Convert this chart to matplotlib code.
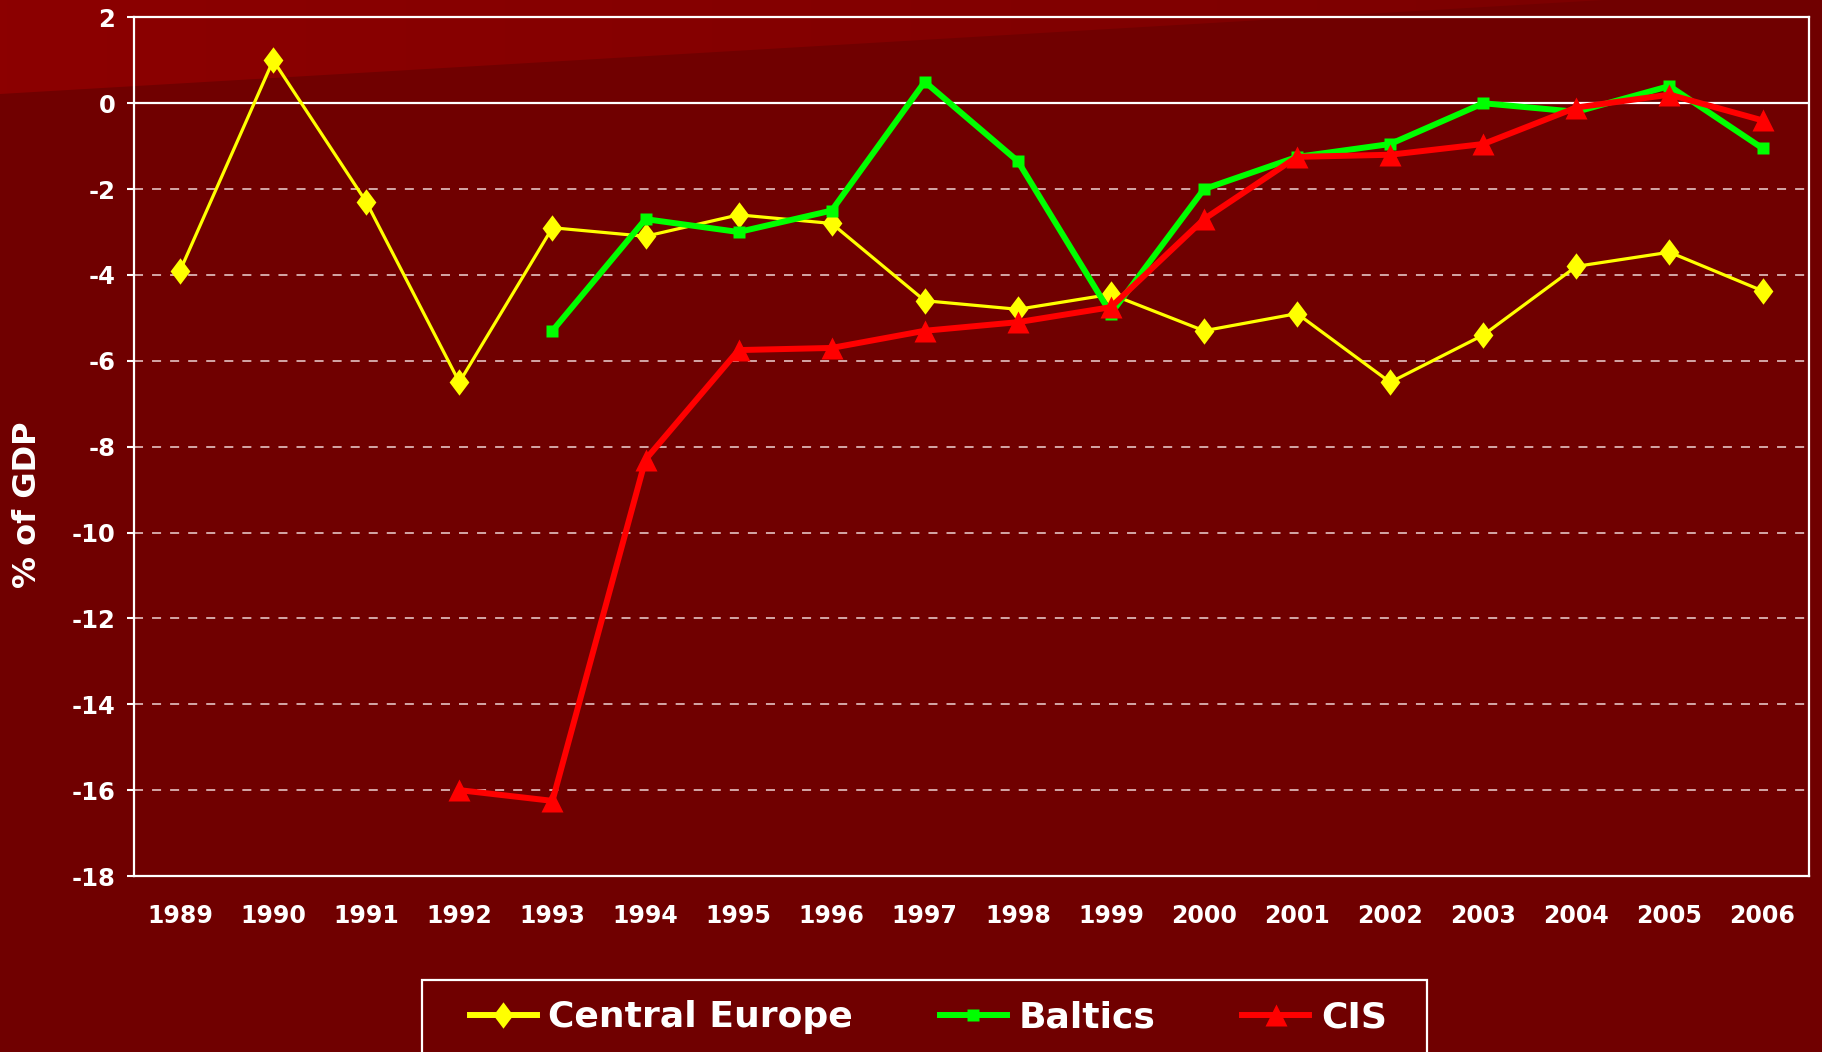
import matplotlib.pyplot as plt
import numpy as np
from matplotlib.patches import Polygon, Rectangle
from matplotlib.colors import LinearSegmentedColormap

# data (% of GDP)
years = list(range(1989, 2007))
central_europe = [-3.9, 1.0, -2.3, -6.5, -2.9, -3.1, -2.6, -2.8, -4.6, -4.8,
                  -4.45, -5.3, -4.9, -6.5, -5.4, -3.8, -3.47, -4.37]
baltic_years = list(range(1993, 2007))
baltics = [-5.3, -2.7, -3.0, -2.5, 0.5, -1.35, -4.9, -2.0, -1.25, -0.95,
           0.0, -0.2, 0.4, -1.05]
cis_years = list(range(1992, 2007))
cis = [-16.0, -16.25, -8.3, -5.75, -5.7, -5.3, -5.1, -4.75, -2.7, -1.25,
       -1.2, -0.95, -0.1, 0.2, -0.4]
y_ticks = list(range(-18, 3, 2))

BG = '#700000'
plt.rcParams['font.family'] = ['DejaVu Sans']
plt.rcParams['font.weight'] = 'bold'

fig = plt.figure(figsize=(18.22, 10.52), dpi=100)
fig.patch.set_facecolor(BG)

# lighter band in the top left corner
bg = fig.add_axes([0, 0, 1, 1], zorder=-10)
bg.set_xlim(0, 1)
bg.set_ylim(0, 1)
bg.axis('off')
cmap = LinearSegmentedColormap.from_list('band', ['#8c0000', '#7a0000'])
im = bg.imshow(np.linspace(0, 1, 256)[None, :], cmap=cmap, aspect='auto',
               extent=[0, 1, 0, 1])
band = Polygon([(0, 1), (0, 1 - 94 / 1052), (1604 / 1822, 1)], closed=True,
               transform=bg.transAxes, facecolor='none', edgecolor='none')
bg.add_patch(band)
im.set_clip_path(band)

# legend frame, runs off the bottom edge
bg.add_patch(Rectangle((422 / 1822, -0.01), 1005 / 1822, 0.01 + 72 / 1052,
                       transform=bg.transAxes, facecolor='none',
                       edgecolor='white', lw=1.6))

ax = fig.add_axes([0.0733, 0.1673, 0.9196, 0.8162])
ax.set_facecolor('none')

diamond = [(0, 1), (0.75, 0), (0, -1), (-0.75, 0), (0, 1)]
ax.plot(years, central_europe, color='#ffff00', lw=2.3, marker=diamond,
        ms=19, mec='none', label='Central Europe', zorder=3)
ax.plot(baltic_years, baltics, color='#00ff00', lw=4.3, marker='s',
        ms=9, mec='none', label='Baltics', zorder=4)
ax.plot(cis_years, cis, color='#ff0000', lw=4.3, marker='^',
        ms=16, mec='none', label='CIS', zorder=5)

ax.set_xlim(1988.5, 2006.5)
ax.set_ylim(-18, 2)
ax.set_xticks(years)
ax.set_yticks(y_ticks)
ax.set_yticklabels([str(t) for t in y_ticks])

for y in y_ticks[1:-2]:
    ax.axhline(y, color='#dcb4b4', lw=1.3, ls=(0, (5, 5)), zorder=1)
ax.axhline(0, color='white', lw=1.6, zorder=1)

for s in ax.spines.values():
    s.set_color('white')
    s.set_linewidth(1.6)

ax.tick_params(axis='x', length=0, pad=20, labelsize=17, colors='white')
ax.tick_params(axis='y', length=5, width=1.5, pad=8, labelsize=17.5,
               colors='white', direction='out')

fig.text(28 / 1822, 1 - 505 / 1052, '% of GDP', rotation=90, ha='center',
         va='center', color='white', fontsize=23, fontweight='bold')

leg = fig.legend(loc='center', bbox_to_anchor=(0.5095, 0.033), ncol=3,
                 prop={'size': 26, 'weight': 'bold'}, frameon=False,
                 columnspacing=2.4, handlelength=1.85, handletextpad=0.33,
                 borderpad=0.0)
for t in leg.get_texts():
    t.set_color('white')
for h in leg.legend_handles:
    h.set_linewidth(4.3)

fig.savefig('out.png', dpi=100, facecolor=BG)
